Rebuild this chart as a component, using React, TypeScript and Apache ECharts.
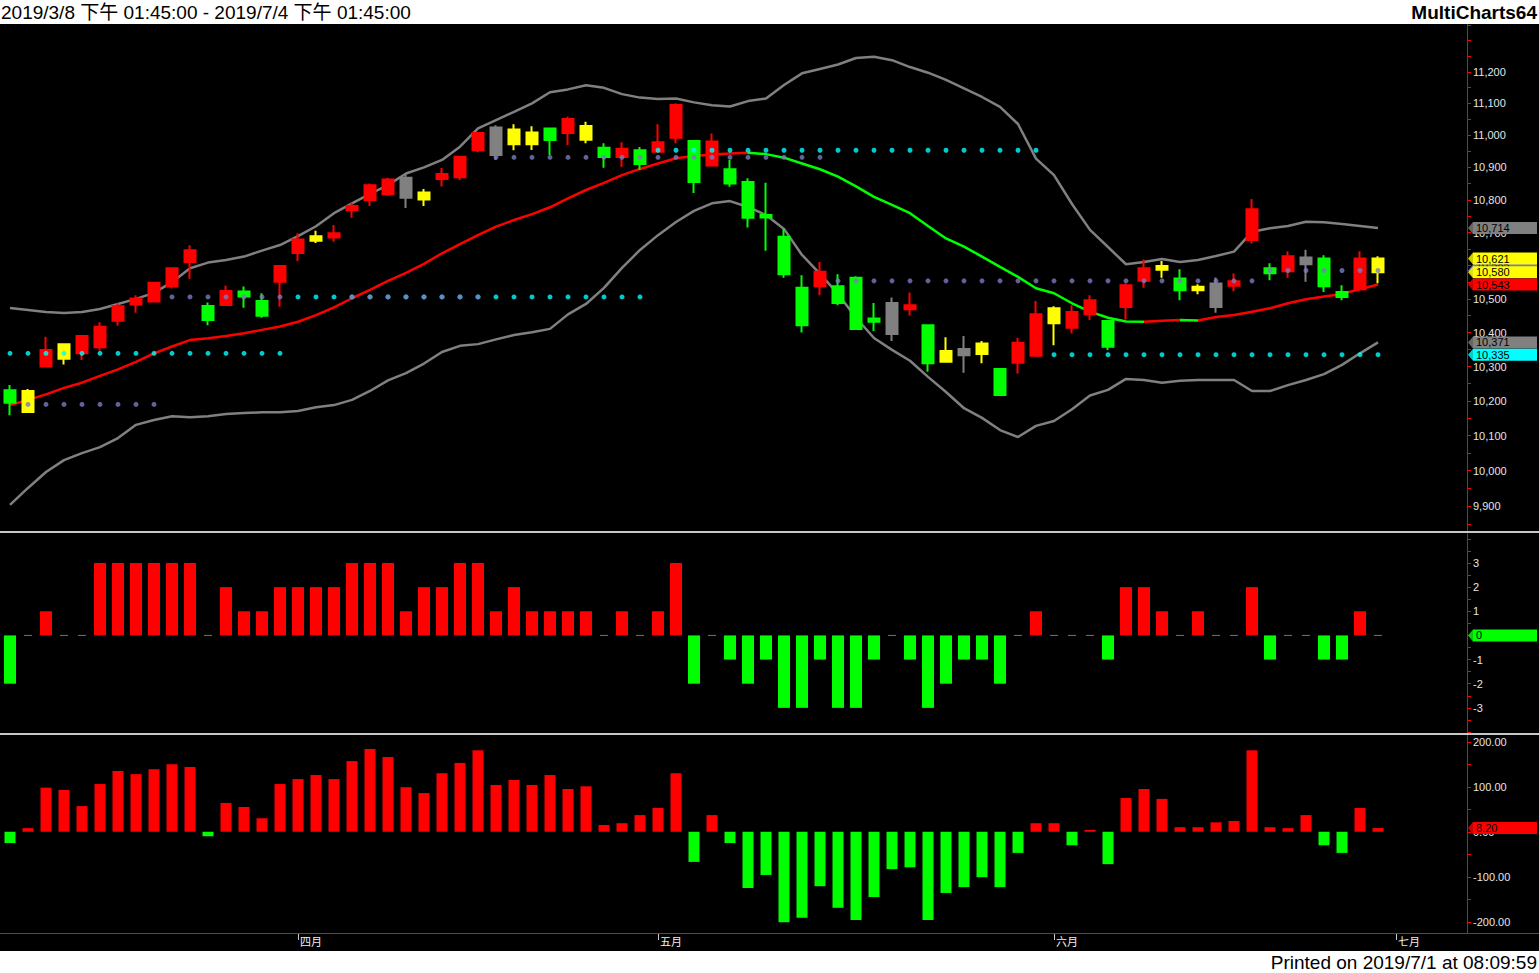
import React, { useEffect, useRef } from 'react';
import * as echarts from 'echarts';

// ---------- data ----------
const DATES = [
  '3/8', '3/11', '3/12', '3/13', '3/14', '3/15', '3/18', '3/19', '3/20', '3/21', '3/22', '3/25', '3/26', '3/27', '3/28', '3/29',
  '4/1', '4/2', '4/3', '4/8', '4/9', '4/10', '4/11', '4/12', '4/15', '4/16', '4/17', '4/18', '4/19', '4/22', '4/23', '4/24', '4/25', '4/26', '4/29', '4/30',
  '5/2', '5/3', '5/6', '5/7', '5/8', '5/9', '5/10', '5/13', '5/14', '5/15', '5/16', '5/17', '5/20', '5/21', '5/22', '5/23', '5/24', '5/27', '5/28', '5/29', '5/30', '5/31',
  '6/3', '6/4', '6/5', '6/6', '6/10', '6/11', '6/12', '6/13', '6/14', '6/17', '6/18', '6/19', '6/20', '6/21', '6/24', '6/25', '6/26', '6/27', '6/28',
  '7/1', '7/2', '7/3', '7/4',
];
const MONTH_NAMES = ['一月', '二月', '三月', '四月', '五月', '六月', '七月', '八月', '九月', '十月', '十一月', '十二月'];

const OPEN = [
  10231, 10168, 10300, 10323, 10339, 10357, 10435, 10483, 10492, 10537,
  10611, 10479, 10482, 10522, 10494, 10551, 10638, 10675, 10685, 10768,
  10799, 10817, 10806, 10801, 10864, 10869, 10953, 10938, 10972, 10972,
  11021, 11007, 10986, 10961, 10932, 10953, 10948, 10992, 10982, 10906,
  10894, 10855, 10753, 10687, 10533, 10538, 10538, 10563, 10442, 10396,
  10469, 10422, 10314, 10333, 10337, 10293, 10311, 10332, 10428, 10414,
  10454, 10434, 10476, 10554, 10587, 10561, 10526, 10476, 10539, 10677,
  10592, 10583, 10604, 10621, 10521, 10529, 10580,
];
const CLOSE = [
  10195, 10229, 10349, 10366, 10390, 10417, 10478, 10501, 10548, 10592,
  10646, 10437, 10524, 10507, 10450, 10599, 10679, 10689, 10698, 10781,
  10845, 10862, 10868, 10822, 10879, 10933, 11007, 11024, 11018, 11008,
  10985, 11051, 11029, 10932, 10958, 10910, 10978, 11095, 10855, 10980,
  10850, 10745, 10746, 10574, 10422, 10581, 10488, 10411, 10432, 10488,
  10481, 10310, 10346, 10352, 10368, 10217, 10370, 10454, 10472, 10461,
  10496, 10358, 10541, 10592, 10599, 10526, 10536, 10546, 10553, 10771,
  10577, 10628, 10624, 10538, 10506, 10621, 10621,
];
const LOW = [
  10159, 10166, 10300, 10306, 10319, 10347, 10420, 10459, 10490, 10531,
  10560, 10422, 10479, 10474, 10444, 10477, 10614, 10668, 10672, 10745,
  10781, 10812, 10775, 10781, 10841, 10861, 10947, 10923, 10953, 10954,
  10938, 10969, 10975, 10899, 10902, 10892, 10948, 10975, 10821, 10906,
  10840, 10715, 10645, 10563, 10400, 10511, 10481, 10408, 10405, 10375,
  10451, 10285, 10314, 10282, 10310, 10217, 10280, 10329, 10363, 10398,
  10437, 10349, 10439, 10533, 10563, 10496, 10514, 10459, 10523, 10667,
  10556, 10563, 10551, 10521, 10496, 10529, 10547,
];
const HIGH = [
  10246, 10235, 10388, 10366, 10392, 10431, 10486, 10511, 10551, 10595,
  10661, 10489, 10539, 10537, 10517, 10602, 10698, 10705, 10723, 10791,
  10850, 10868, 10880, 10833, 10898, 10935, 11008, 11031, 11034, 11028,
  11022, 11058, 11042, 10975, 10978, 10963, 11034, 11100, 10983, 11005,
  10923, 10866, 10852, 10711, 10571, 10611, 10574, 10568, 10488, 10504,
  10519, 10424, 10386, 10390, 10375, 10296, 10385, 10494, 10478, 10481,
  10511, 10437, 10546, 10618, 10614, 10589, 10544, 10564, 10576, 10802,
  10607, 10643, 10648, 10631, 10541, 10643, 10628,
];
// r = red, g = green, y = yellow, w = gray
const CANDLE_COLOR = 'gyryrrrrrr' + 'rgrggrryrr' + 'rrwyrrrwyy' + 'grygrgrrgr' + 'gggggrgggw' + 'rgywygrryr' + 'rgrrygywrr' + 'grwggry';

const MA = [
  10188, 10203, 10219, 10238, 10253, 10273, 10292, 10314, 10339, 10359,
  10378, 10383, 10390, 10398, 10408, 10418, 10432, 10452, 10475, 10502,
  10527, 10554, 10578, 10605, 10637, 10665, 10692, 10718, 10738, 10756,
  10777, 10804, 10830, 10852, 10876, 10895, 10912, 10928, 10935, 10940,
  10943, 10945, 10941, 10930, 10912, 10894, 10871, 10841, 10809, 10784,
  10759, 10720, 10682, 10657, 10627, 10596, 10566, 10532, 10517, 10487,
  10462, 10444, 10433, 10432, 10435, 10437, 10436, 10446, 10452, 10462,
  10472, 10487, 10499, 10507, 10515, 10529, 10543,
];
const UPPER = [
  10473, 10467, 10461, 10458, 10461, 10470, 10485, 10500, 10518, 10550,
  10592, 10609, 10617, 10627, 10645, 10662, 10689, 10719, 10759, 10789,
  10818, 10845, 10881, 10900, 10923, 10964, 11021, 11047, 11073, 11100,
  11135, 11144, 11157, 11149, 11129, 11118, 11114, 11115, 11103, 11094,
  11090, 11107, 11115, 11158, 11195, 11209, 11223, 11244, 11248, 11237,
  11215, 11197, 11174, 11147, 11120, 11089, 11035, 10927, 10876, 10787,
  10708, 10656, 10604, 10611, 10620, 10611, 10617, 10629, 10642, 10702,
  10713, 10720, 10733, 10731, 10726, 10720, 10714,
];
const LOWER = [
  9903, 9951, 9996, 10030, 10050, 10067, 10093, 10131, 10145, 10156,
  10153, 10156, 10162, 10165, 10167, 10167, 10171, 10182, 10188, 10203,
  10229, 10260, 10281, 10309, 10343, 10361, 10366, 10380, 10393, 10401,
  10411, 10454, 10485, 10533, 10593, 10647, 10692, 10732, 10766, 10789,
  10796, 10778, 10753, 10711, 10632, 10575, 10515, 10444, 10384, 10349,
  10317, 10270, 10226, 10179, 10151, 10116, 10096, 10128, 10142, 10176,
  10216, 10232, 10264, 10261, 10253, 10259, 10261, 10261, 10261, 10229,
  10229, 10246, 10261, 10278, 10305, 10339, 10371,
];
// [first index, last index, level]
const CYAN_LEVELS = [[0, 15, 10339], [16, 35, 10506], [36, 57, 10953], [58, 76, 10335]];
const SLATE_LEVELS = [[1, 8, 10190], [9, 15, 10506], [19, 26, 10506], [27, 45, 10931], [46, 69, 10554], [70, 76, 10585]];

const MOMENTUM = [
  -2, 0, 1, 0, 0, 3, 3, 3, 3, 3,
  3, 0, 2, 1, 1, 2, 2, 2, 2, 3,
  3, 3, 1, 2, 2, 3, 3, 1, 2, 1,
  1, 1, 1, 0, 1, 0, 1, 3, -2, 0,
  -1, -2, -1, -3, -3, -1, -3, -3, -1, 0,
  -1, -3, -2, -1, -1, -2, 0, 1, 0, 0,
  0, -1, 2, 2, 1, 0, 1, 0, 0, 2,
  -1, 0, 0, -1, -1, 1, 0,
];
const OSC = [
  -25, 8, 98, 93, 57, 106, 135, 128, 139, 150,
  144, -10, 64, 55, 30, 106, 117, 126, 117, 157,
  184, 166, 99, 86, 130, 153, 181, 104, 115, 104,
  126, 95, 101, 15, 19, 37, 53, 130, -67, 37,
  -25, -125, -96, -201, -191, -121, -169, -196, -145, -83,
  -79, -196, -136, -123, -101, -123, -47, 19, 19, -30,
  4, -72, 75, 95, 73, 10, 10, 21, 24, 181,
  10, 8, 37, -30, -47, 53, 8.2,
];

const PRICE_LABELS = [9900, 10000, 10100, 10200, 10300, 10400, 10500, 10600, 10700, 10800, 10900, 11000, 11100, 11200];
const PRICE_TICKS = [9850, 9900, 9950, 10000, 10050, 10100, 10150, 10200, 10250, 10300, 10350, 10400, 10450, 10500, 10550, 10600, 10650, 10700, 10750, 10800, 10850, 10900, 10950, 11000, 11050, 11100, 11150, 11200, 11250, 11300, 11350];
const MOM_LABELS = [-3, -2, -1, 0, 1, 2, 3];
const MOM_TICKS = [-4, -3.5, -3, -2.5, -2, -1.5, -1, -0.5, 0, 0.5, 1, 1.5, 2, 2.5, 3, 3.5, 4];
const OSC_LABELS = [-200, -100, 0, 100, 200];
const OSC_TICKS = [-200, -150, -100, -50, 0, 50, 100, 150, 200];

const HEADER_TEXT = '2019/3/8 下午 01:45:00 - 2019/7/4 下午 01:45:00';
const BRAND_TEXT = 'MultiCharts64';
const PRINTED_TEXT = 'Printed on 2019/7/1 at 08:09:59';

// ---------- styles ----------
const FONT = '"Liberation Sans", Arial, "Noto Sans CJK TC", sans-serif';
const RED = '#ff0000';
const GREEN = '#00ff00';
const YELLOW = '#ffff00';
const GRAY = '#808080';
const CYAN = '#00ffff';
const SLATE = '#7b7bc0';
const COLOR_OF: Record<string, string> = { r: RED, g: GREEN, y: YELLOW, w: GRAY };

function buildOption() {
  const N = OPEN.length;
  const month = (d: string) => parseInt(d.split('/')[0], 10);
  const isMonthStart = DATES.map((d, i) => i > 0 && month(d) !== month(DATES[i - 1]));

  const candleData = OPEN.map((o, i) => {
    const c = COLOR_OF[CANDLE_COLOR[i]];
    return {
      value: [o, CLOSE[i], LOW[i], HIGH[i]],
      itemStyle: { color: c, color0: c, borderColor: c, borderColor0: c, borderWidth: 2 },
    };
  });

  const expand = (levels: number[][]) => {
    const arr: (number | string)[] = new Array(N).fill('-');
    levels.forEach(([a, b, v]) => { for (let i = a; i <= b; i++) arr[i] = v; });
    return arr;
  };
  const cyanDots = expand(CYAN_LEVELS);
  const slateDots = expand(SLATE_LEVELS);

  // MA colour sections (red rising, green falling)
  const runs: { s: number; e: number; c: string }[] = [];
  let start = 0;
  let cur = MA[1] >= MA[0] ? RED : GREEN;
  for (let i = 2; i < N; i++) {
    const c = MA[i] >= MA[i - 1] ? RED : GREEN;
    if (c !== cur) { runs.push({ s: start, e: i - 1, c: cur }); start = i - 1; cur = c; }
  }
  runs.push({ s: start, e: N - 1, c: cur });
  const pieces = runs.map((r, k) => (k === 0 ? { gte: r.s, lte: r.e, color: r.c } : { gt: r.s, lte: r.e, color: r.c }));

  const tag = (value: number, color: string, text: string, extra: any = {}) => ({
    yAxis: value,
    lineStyle: { color, width: 0, opacity: 0 },
    label: {
      show: true, position: 'end', distance: 14, formatter: text, color: '#000',
      backgroundColor: color, width: 59, padding: [0, 2, 0, 3], fontSize: 11, lineHeight: 12,
      fontFamily: FONT, align: 'left', opacity: 1, ...extra,
    },
  });
  const markLineBase = { silent: true, symbol: ['none', 'none'], animation: false };
  const fmtPrice = (v: number) => Number(v).toLocaleString('en-US');
  const last = (a: any[]) => a[a.length - 1];

  const slateLast = SLATE_LEVELS[SLATE_LEVELS.length - 1][2];
  const cyanLast = CYAN_LEVELS[CYAN_LEVELS.length - 1][2];

  // small arrow heads at the left of each value tag (anchored on the last category)
  const arrowData = (items: { v: number; c: string }[]) => items.map((it) => ({
    value: [DATES.length - 1, it.v],
    itemStyle: { color: it.c },
  }));
  const arrowSeries = (name: string, axisIndex: number, items: { v: number; c: string }[]) => ({
    name, type: 'scatter', xAxisIndex: axisIndex, yAxisIndex: axisIndex, clip: false, silent: true,
    symbol: 'path://M0,6L5,0L5,12Z', symbolSize: [5, 12], symbolOffset: [20.5, 0],
    data: arrowData(items), z: 6,
  });

  const axisLabelBase = { color: '#e6e6e6', fontSize: 11, fontFamily: FONT, margin: 6 };
  const yBase = (gridIndex: number) => ({
    gridIndex, position: 'right', offset: 8,
    splitLine: { show: false },
    axisLine: { show: true, onZero: false, lineStyle: { color: RED, width: 1 } },
  });
  const grids = [
    { left: 1, width: 1458, top: 24, height: 507 },
    { left: 1, width: 1458, top: 534, height: 198 },
    { left: 1, width: 1458, top: 735, height: 198 },
  ];
  const xHidden = (gridIndex: number) => ({
    type: 'category', gridIndex, data: DATES, boundaryGap: true,
    axisLine: { show: false, onZero: false }, axisTick: { show: false }, axisLabel: { show: false }, splitLine: { show: false },
  });

  const topTags = [
    { v: slateLast, c: SLATE },
    { v: last(UPPER), c: GRAY },
    { v: last(CLOSE), c: YELLOW },
    { v: last(OPEN), c: YELLOW },
    { v: last(MA), c: RED },
    { v: last(LOWER), c: GRAY },
    { v: cyanLast, c: CYAN },
  ];

  return {
    animation: false,
    backgroundColor: '#000',
    grid: grids,
    xAxis: [
      xHidden(0),
      xHidden(1),
      {
        type: 'category', gridIndex: 2, data: DATES, boundaryGap: true,
        axisLine: { show: true, onZero: false, lineStyle: { color: RED, width: 1 } },
        axisTick: { show: true, alignWithLabel: true, interval: (i: number) => isMonthStart[i], length: 7, lineStyle: { color: '#c8c8c8' } },
        axisLabel: {
          show: true, interval: (i: number) => isMonthStart[i], align: 'left', margin: 3, padding: [0, 0, 0, 2],
          color: '#f0f0f0', fontSize: 11, fontFamily: FONT,
          formatter: (v: string) => MONTH_NAMES[month(v) - 1],
        },
        splitLine: { show: false },
      },
    ],
    yAxis: [
      {
        ...yBase(0), type: 'log', logBase: 10, min: 9830, max: 11353,
        axisTick: { show: true, length: 4, customValues: PRICE_TICKS, lineStyle: { color: RED } },
        axisLabel: { ...axisLabelBase, customValues: PRICE_LABELS, formatter: (v: number) => fmtPrice(v) },
      },
      {
        ...yBase(1), type: 'value', min: -4, max: 4.2,
        axisTick: { show: true, length: 4, customValues: MOM_TICKS, lineStyle: { color: RED } },
        axisLabel: { ...axisLabelBase, customValues: MOM_LABELS, formatter: (v: number) => String(v) },
      },
      {
        ...yBase(2), type: 'value', min: -225, max: 215,
        axisTick: { show: true, length: 4, customValues: OSC_TICKS, lineStyle: { color: RED } },
        axisLabel: { ...axisLabelBase, customValues: OSC_LABELS, formatter: (v: number) => Number(v).toFixed(2) },
      },
    ],
    visualMap: [
      { show: false, type: 'piecewise', seriesIndex: 2, dimension: 0, pieces, outOfRange: { color: RED } },
    ],
    series: [
      { name: 'upper', type: 'line', xAxisIndex: 0, yAxisIndex: 0, data: UPPER, symbol: 'none', showSymbol: false, lineStyle: { color: GRAY, width: 2.5 }, z: 2 },
      { name: 'lower', type: 'line', xAxisIndex: 0, yAxisIndex: 0, data: LOWER, symbol: 'none', showSymbol: false, lineStyle: { color: GRAY, width: 2.5 }, z: 2 },
      { name: 'ma', type: 'line', xAxisIndex: 0, yAxisIndex: 0, data: MA, symbol: 'none', showSymbol: false, lineStyle: { width: 2.5 }, z: 2 },
      {
        name: 'price', type: 'candlestick', xAxisIndex: 0, yAxisIndex: 0, data: candleData, barWidth: 11, z: 3,
        markLine: {
          ...markLineBase,
          data: topTags.map((t, k) => tag(t.v, t.c, fmtPrice(t.v), k === 0 ? { verticalAlign: 'bottom' } : {})),
        },
      },
      { name: 'cyanDots', type: 'scatter', xAxisIndex: 0, yAxisIndex: 0, data: cyanDots, symbol: 'circle', symbolSize: 5, itemStyle: { color: CYAN }, z: 4 },
      { name: 'slateDots', type: 'scatter', xAxisIndex: 0, yAxisIndex: 0, data: slateDots, symbol: 'circle', symbolSize: 5, itemStyle: { color: SLATE }, z: 4 },
      {
        name: 'momentum', type: 'bar', xAxisIndex: 1, yAxisIndex: 1, barWidth: 12,
        data: MOMENTUM.map((v) => ({ value: v, itemStyle: { color: v >= 0 ? RED : GREEN } })),
        markLine: { ...markLineBase, data: [tag(last(MOMENTUM), GREEN, String(last(MOMENTUM)))] },
      },
      {
        name: 'momentumZero', type: 'scatter', xAxisIndex: 1, yAxisIndex: 1, symbol: 'rect', symbolSize: [8, 1],
        data: MOMENTUM.map((v) => (v === 0 ? 0 : '-')), itemStyle: { color: '#909090' },
      },
      {
        name: 'oscillator', type: 'bar', xAxisIndex: 2, yAxisIndex: 2, barWidth: 11,
        data: OSC.map((v) => ({ value: v, itemStyle: { color: v >= 0 ? RED : GREEN } })),
        markLine: { ...markLineBase, data: [tag(last(OSC), RED, Number(last(OSC)).toFixed(2))] },
      },
      arrowSeries('tagArrowsTop', 0, topTags),
      arrowSeries('tagArrowsMid', 1, [{ v: last(MOMENTUM), c: GREEN }]),
      arrowSeries('tagArrowsBottom', 2, [{ v: last(OSC), c: RED }]),
    ],
    graphic: [
      { type: 'rect', shape: { x: 0, y: 0, width: 1539, height: 24 }, style: { fill: '#ffffff' }, z: 10 },
      { type: 'rect', shape: { x: 0, y: 951, width: 1539, height: 22 }, style: { fill: '#ffffff' }, z: 10 },
      { type: 'rect', shape: { x: 0, y: 531, width: 1539, height: 2 }, style: { fill: '#c8c8c8' }, z: 10 },
      { type: 'rect', shape: { x: 0, y: 733, width: 1539, height: 2 }, style: { fill: '#c8c8c8' }, z: 10 },
      { type: 'line', shape: { x1: 0, y1: 933.5, x2: 1539, y2: 933.5 }, style: { stroke: RED, lineWidth: 1 }, z: 10 },
      { type: 'text', x: 1, y: 12.5, style: { text: HEADER_TEXT, font: `19px ${FONT}`, fill: '#000', verticalAlign: 'middle', align: 'left' }, z: 11 },
      { type: 'text', x: 1537, y: 12.5, style: { text: BRAND_TEXT, font: `bold 19px ${FONT}`, fill: '#000', verticalAlign: 'middle', align: 'right' }, z: 11 },
      { type: 'text', x: 1537, y: 962.5, style: { text: PRINTED_TEXT, font: `19px ${FONT}`, fill: '#000', verticalAlign: 'middle', align: 'right' }, z: 11 },
    ],
  };
}

export default function App() {
  const ref = useRef<HTMLDivElement>(null);
  useEffect(() => {
    const chart = echarts.init(ref.current as HTMLDivElement, null, { renderer: 'svg' });
    chart.setOption(buildOption() as any);
    return () => chart.dispose();
  }, []);
  return <div ref={ref} style={{ position: 'fixed', left: 0, top: 0, width: 1539, height: 973 }} />;
}
